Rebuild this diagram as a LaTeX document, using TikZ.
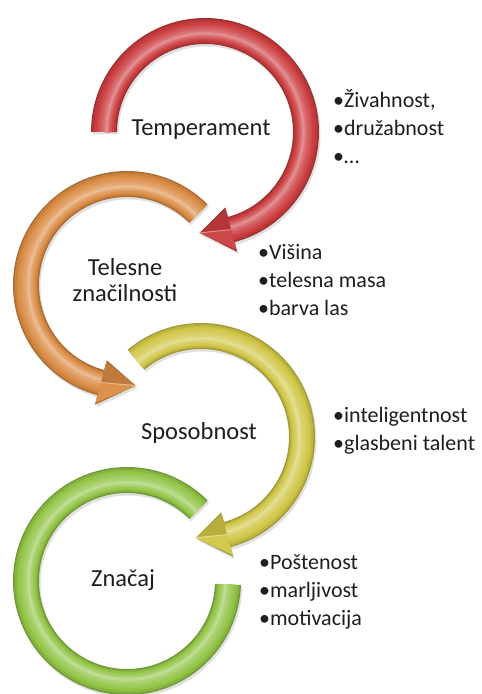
\documentclass[tikz,border=0pt]{standalone}
\usepackage{fontspec}
\setmainfont{Carlito}
\usepackage{xcolor}
\definecolor{ringred}{RGB}{204,62,64}
\definecolor{ringorange}{RGB}{218,140,68}
\definecolor{ringyellow}{RGB}{208,198,70}
\definecolor{ringgreen}{RGB}{146,196,70}
\definecolor{labeltext}{RGB}{30,30,30}

% outline of a ring with head: #1 tail, #2 head base, #3 tip (angles)
\newcommand{\headpath}[3]{(#1:114) arc[start angle=#1, end angle=#2, radius=114] -- (#2:124) -- (#3:101) -- (#2:78) -- (#2:88) arc[start angle=#2, end angle=#1, radius=88] -- cycle}
% outline of a ring without head: #1 tail, #2 end
\newcommand{\bandpath}[2]{(#1:114) arc[start angle=#1, end angle=#2, radius=114] -- (#2:88) arc[start angle=#2, end angle=#1, radius=88] -- cycle}
% tube shine along the band
\newcommand{\bandshine}[3]{%
  \foreach \w/\r/\tone in {23/101/#1!92!black, 19/100.5/#1, 15/100/#1!92!white, 11/99.5/#1!84!white, 7/99/#1!74!white, 3/98.5/#1!60!white}
    \draw[line width=\w pt, \tone] (#2:\r) arc[start angle=#2, end angle=#3, radius=\r];}
% #1 centre, #2 colour, #3 tail, #4 head base, #5 tip
\newcommand{\ringarrow}[5]{%
  \begin{scope}[shift={(#1)}]
    \fill[black, opacity=0.12, xshift=1.5pt, yshift=-2.5pt] \headpath{#3}{#4}{#5};
    \fill[#2!78!black] \headpath{#3}{#4}{#5};
    \bandshine{#2}{#3}{#4}
    \fill[#2!95!white] (#4:122) -- (#5:101) -- (#4:101) -- cycle;
    \fill[#2!88!black] (#4:80) -- (#5:101) -- (#4:101) -- cycle;
    \draw[#2!60!white, line width=1pt] (#4:101) -- (#5:101);
  \end{scope}}
% #1 centre, #2 colour, #3 tail, #4 end
\newcommand{\ringband}[4]{%
  \begin{scope}[shift={(#1)}]
    \fill[black, opacity=0.12, xshift=1.5pt, yshift=-2.5pt] \bandpath{#3}{#4};
    \fill[#2!78!black] \bandpath{#3}{#4};
    \bandshine{#2}{#3}{#4}
  \end{scope}}

\begin{document}
\begin{tikzpicture}[x=1pt,y=1pt]
    % Define styles
    \tikzstyle{topic} = [text=labeltext, font=\fontsize{24.5}{26}\selectfont, align=center, inner sep=0pt]
    \tikzstyle{points} = [text=labeltext, font=\fontsize{22}{28}\selectfont, align=left, anchor=west, inner sep=0pt]
    \useasboundingbox (0,0) rectangle (482,694);

    % Ring centres
    \coordinate (temp) at (205,562);
    \coordinate (body) at (127,409);
    \coordinate (skill) at (201,257);
    \coordinate (char) at (127,113);

    % Rings
    \ringband{char}{ringgreen}{45}{358}
    \ringarrow{skill}{ringyellow}{130}{-75}{-93}
    \ringarrow{body}{ringorange}{45}{255}{275}
    \ringarrow{temp}{ringred}{180}{-75}{-93}

    % Topics
    \node (temperament) [topic] at (201,564) {Temperament};
    \node (telesne) [topic] at (125,414) {Telesne\\značilnosti};
    \node (sposobnost) [topic] at (199,261) {Sposobnost};
    \node (znacaj) [topic] at (123,114) {Značaj};

    % Points
    \node (tempitems) [points] at (333,567) {•Živahnost,\\•družabnost\\•…};
    \node (bodyitems) [points] at (258,414) {•Višina\\•telesna masa\\•barva las};
    \node (skillitems) [points] at (333,263) {•inteligentnost\\•glasbeni talent};
    \node (charitems) [points] at (259,102) {•Poštenost\\•marljivost\\•motivacija};
\end{tikzpicture}
\end{document}
